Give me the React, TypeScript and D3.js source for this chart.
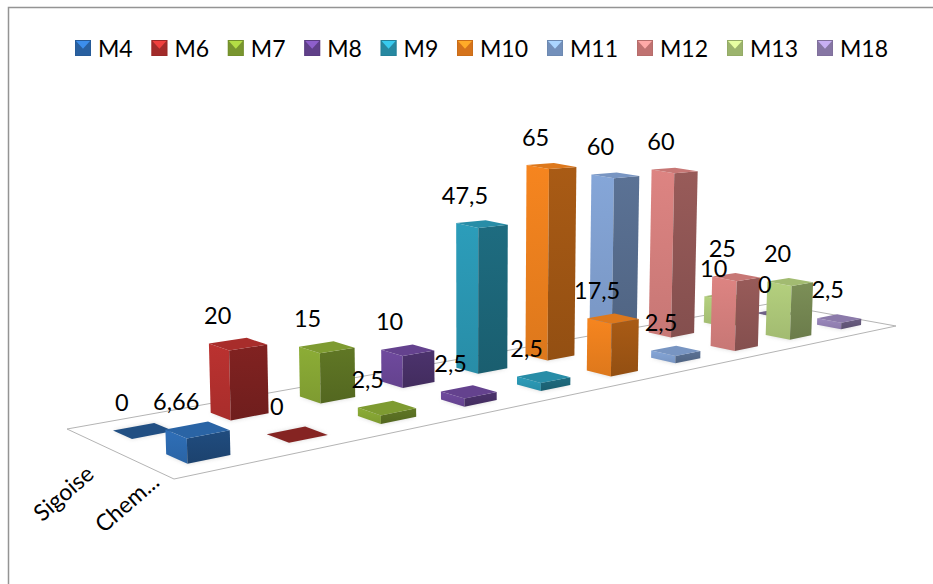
import React from "react";
import * as d3 from "d3";

// Series and categories of the clustered 3-D column chart
const months = ["M4", "M6", "M7", "M8", "M9", "M10", "M11", "M12", "M13", "M18"];
const sites = ["Sigoise", "Chem..."];
const sigoise = [0, 20, 15, 10, 47.5, 65, 60, 60, 10, 0];
const chem = [6.66, 0, 2.5, 2.5, 2.5, 17.5, 2.5, 25, 20, 2.5];
const seriesColors = ["#2f6fb8", "#bb3230", "#8cad36", "#6f4a9e", "#2c9dba", "#f6851f", "#85a6d8", "#dd8482", "#b4d07e", "#9b88bd"];

const FONT = "Lato, Carlito, 'Open Sans', sans-serif";

// Floor plane corners in screen space: back-left, back-right, front-right, front-left
const floor: [number, number][] = [[67, 429], [771, 303.5], [896, 326], [174, 479]];

// Projective map of the unit square onto the floor quad
function makeHomography(q: [number, number][]) {
  const [[x0, y0], [x1, y1], [x2, y2], [x3, y3]] = q;
  const dx1 = x1 - x2, dx2 = x3 - x2, sx = x0 - x1 + x2 - x3;
  const dy1 = y1 - y2, dy2 = y3 - y2, sy = y0 - y1 + y2 - y3;
  const den = dx1 * dy2 - dx2 * dy1;
  const g = (sx * dy2 - dx2 * sy) / den;
  const h = (dx1 * sy - sx * dy1) / den;
  const a = x1 - x0 + g * x1, b = x3 - x0 + h * x3;
  const d = y1 - y0 + g * y1, e = y3 - y0 + h * y3;
  return { a, b, c: x0, d, e, f: y0, g, h };
}
const H = makeHomography(floor);

const uScale = d3.scaleBand<string>().domain(months).range([0, 1]).paddingInner(0.59).paddingOuter(0.295);
const vScale = d3.scaleBand<string>().domain(sites).range([0, 1]).paddingInner(0.63).paddingOuter(0.315);
const valueScale = d3.scaleLinear().domain([0, 1]).range([0, 3.65]);
const labelShift = d3.scaleLinear().domain([0, 1]).range([-22, -11]);

// Screen position of a floor point raised by a value
function project(u: number, v: number, value: number): [number, number] {
  const w = 1 + H.g * u + H.h * v;
  const x = (H.a * u + H.b * v + H.c) / w;
  const y = (H.d * u + H.e * v + H.f) / w;
  const rise = valueScale(value) / (1 + H.g * u + 0.5 * H.h * v);
  return [x + (x - 470) * rise * 1e-4, y - rise];
}

const pts = (list: [number, number][]) => list.map((p) => p.map((n) => n.toFixed(1)).join(",")).join(" ");
const fmt = (n: number) => String(n).replace(".", ",");

function Bar({ month, site, value, index }: { month: string; site: string; value: number; index: number }) {
  const u0 = uScale(month)!, u1 = u0 + uScale.bandwidth();
  const v0 = vScale(site)!, v1 = v0 + vScale.bandwidth();
  const base = d3.color(seriesColors[index])!;
  const shadow = [project(u0, v1, 0), project(u1, v1, 0), project(u1, v0, 0), project(u0, v0, 0)];
  if (value === 0) {
    return (
      <g>
        <polygon points={pts(shadow)} fill="#999" opacity={0.35} filter="url(#soft)" />
        <polygon points={pts(shadow)} fill={base.darker(0.95).formatHex()} />
      </g>
    );
  }
  const top = [project(u0, v0, value), project(u1, v0, value), project(u1, v1, value), project(u0, v1, value)];
  const left = [project(u0, v0, value), project(u0, v1, value), project(u0, v1, 0), project(u0, v0, 0)];
  const right = [project(u0, v1, value), project(u1, v1, value), project(u1, v1, 0), project(u0, v1, 0)];
  return (
    <g>
      <polygon points={pts(shadow)} fill="#888" opacity={0.35} filter="url(#soft)" />
      <polygon points={pts(left)} fill={`url(#left${index})`} />
      <polygon points={pts(right)} fill={`url(#right${index})`} />
      <polygon points={pts(top)} fill={base.darker(0.3).formatHex()} />
    </g>
  );
}

function Marker({ x, index }: { x: number; index: number }) {
  const size = 16, y = 40;
  const base = d3.color(seriesColors[index])!;
  return (
    <g>
      <rect x={x} y={y} width={size} height={size} fill={base.darker(0.4).formatHex()} />
      <polygon points={pts([[x + 1, y + 1], [x + size - 1, y + 1], [x + size / 2, y + size * 0.55]])} fill={base.brighter(0.7).formatHex()} />
      <rect x={x + 0.5} y={y + 0.5} width={size - 1} height={size - 1} fill="none" stroke={base.darker(0.7).formatHex()} strokeOpacity={0.5} />
    </g>
  );
}

export default function App() {
  const rows = [{ site: sites[0], values: sigoise }, { site: sites[1], values: chem }];
  let cursor = 75;
  const legend = months.map((m, i) => {
    const x = cursor;
    cursor += m.length < 3 ? 76.4 : 90;
    return { m, i, x };
  });
  return (
    <svg width={933} height={584} style={{ position: "absolute", left: 0, top: 0, background: "#fff" }}>
      <defs>
        <filter id="soft" x="-30%" y="-60%" width="160%" height="220%">
          <feGaussianBlur stdDeviation="2" />
        </filter>
        {seriesColors.map((c, i) => {
          const base = d3.color(c)!;
          return (
            <React.Fragment key={c}>
              <linearGradient id={`left${i}`} x1="0" y1="0" x2="0" y2="1">
                <stop offset="0" stopColor={base.formatHex()} />
                <stop offset="1" stopColor={base.darker(0.3).formatHex()} />
              </linearGradient>
              <linearGradient id={`right${i}`} x1="0" y1="0" x2="0" y2="1">
                <stop offset="0" stopColor={base.darker(1.05).formatHex()} />
                <stop offset="1" stopColor={base.darker(1.45).formatHex()} />
              </linearGradient>
            </React.Fragment>
          );
        })}
      </defs>

      {/* chart frame: only the top and left edges fall inside the page */}
      <path d="M8.5 584V7.5H933" fill="none" stroke="#949494" strokeWidth={1.5} />

      <polygon points={pts(floor)} fill="#fff" stroke="#b4b4b4" strokeWidth={1} />

      {rows.map((r) =>
        r.values.map((value, i) => <Bar key={r.site + i} month={months[i]} site={r.site} value={value} index={i} />)
      )}

      {rows.map((r) =>
        r.values.map((value, i) => {
          const u = uScale(months[i])! + uScale.bandwidth() / 2;
          const v = vScale(r.site)! + vScale.bandwidth() / 2;
          const [x, y] = project(u, v, value);
          return (
            <text key={r.site + i} x={x + labelShift(u)} y={y - 29} textAnchor="middle" dominantBaseline="central" fontFamily={FONT} fontSize={23.5} fill="#000">
              {fmt(value)}
            </text>
          );
        })
      )}

      {legend.map(({ m, i, x }) => (
        <g key={m}>
          <Marker x={x} index={i} />
          <text x={x + 23} y={47.5} dominantBaseline="central" fontFamily={FONT} fontSize={23} fill="#000">{m}</text>
        </g>
      ))}

      {sites.map((s, i) => {
        const [x, y] = project(0, vScale(s)! + vScale.bandwidth() / 2, 0);
        return (
          <text key={s} transform={`translate(${x - 2 + 12 * i},${y + 29 - 17 * i}) rotate(-41)`} textAnchor="end" dominantBaseline="central" fontFamily={FONT} fontSize={23} fill="#000">{s}</text>
        );
      })}
    </svg>
  );
}
